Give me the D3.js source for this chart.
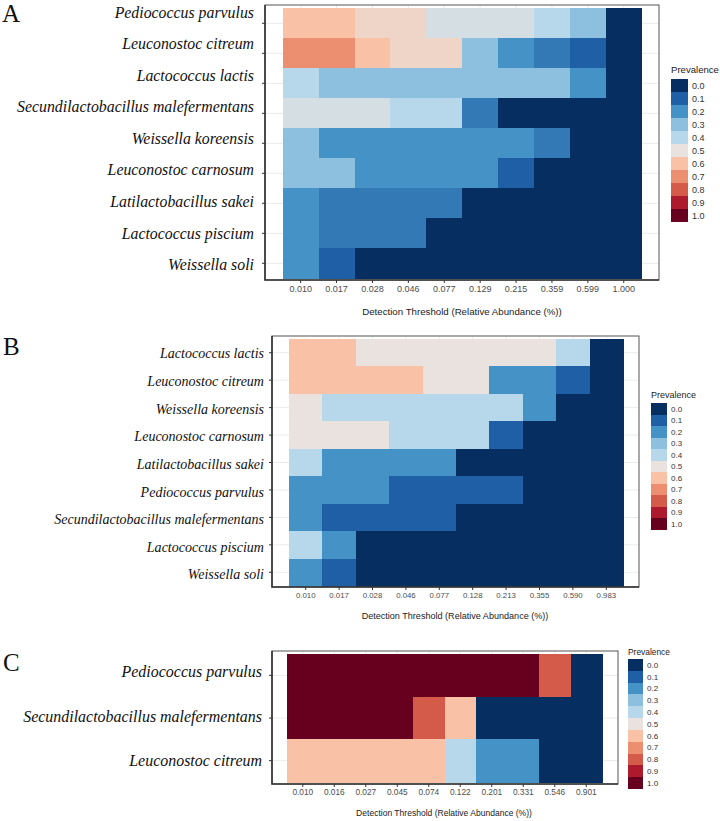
<!DOCTYPE html>
<html>
<head>
<meta charset="utf-8">
<script src="https://cdn.jsdelivr.net/npm/d3@7"></script>
<style>
  html, body { margin: 0; padding: 0; background: #fff; }
  svg { display: block; }
</style>
</head>
<body>
<svg id="chart" width="720" height="821"></svg>
<script>
// ---------------- DATA ----------------
const speciesA = ["Pediococcus parvulus", "Leuconostoc citreum", "Lactococcus lactis",
  "Secundilactobacillus malefermentans", "Weissella koreensis", "Leuconostoc carnosum",
  "Latilactobacillus sakei", "Lactococcus piscium", "Weissella soli"];
const thresholdsA = ["0.010", "0.017", "0.028", "0.046", "0.077", "0.129", "0.215", "0.359", "0.599", "1.000"];
const prevalenceA = [
  [0.6, 0.6, 0.54, 0.54, 0.46, 0.46, 0.46, 0.4, 0.3, 0],
  [0.7, 0.7, 0.6, 0.54, 0.54, 0.3, 0.2, 0.15, 0.1, 0],
  [0.4, 0.3, 0.3, 0.3, 0.3, 0.3, 0.3, 0.3, 0.2, 0],
  [0.46, 0.46, 0.46, 0.4, 0.4, 0.15, 0, 0, 0, 0],
  [0.3, 0.2, 0.2, 0.2, 0.2, 0.2, 0.2, 0.15, 0, 0],
  [0.3, 0.3, 0.2, 0.2, 0.2, 0.2, 0.1, 0, 0, 0],
  [0.2, 0.15, 0.15, 0.15, 0.15, 0, 0, 0, 0, 0],
  [0.2, 0.15, 0.15, 0.15, 0, 0, 0, 0, 0, 0],
  [0.2, 0.1, 0, 0, 0, 0, 0, 0, 0, 0]
];

const speciesB = ["Lactococcus lactis", "Leuconostoc citreum", "Weissella koreensis",
  "Leuconostoc carnosum", "Latilactobacillus sakei", "Pediococcus parvulus",
  "Secundilactobacillus malefermentans", "Lactococcus piscium", "Weissella soli"];
const thresholdsB = ["0.010", "0.017", "0.028", "0.046", "0.077", "0.128", "0.213", "0.355", "0.590", "0.983"];
const prevalenceB = [
  [0.6, 0.6, 0.5, 0.5, 0.5, 0.5, 0.5, 0.5, 0.4, 0],
  [0.6, 0.6, 0.6, 0.6, 0.5, 0.5, 0.2, 0.2, 0.1, 0],
  [0.5, 0.4, 0.4, 0.4, 0.4, 0.4, 0.4, 0.2, 0, 0],
  [0.5, 0.5, 0.5, 0.4, 0.4, 0.4, 0.1, 0, 0, 0],
  [0.4, 0.2, 0.2, 0.2, 0.2, 0, 0, 0, 0, 0],
  [0.2, 0.2, 0.2, 0.1, 0.1, 0.1, 0.1, 0, 0, 0],
  [0.2, 0.1, 0.1, 0.1, 0.1, 0, 0, 0, 0, 0],
  [0.4, 0.2, 0, 0, 0, 0, 0, 0, 0, 0],
  [0.2, 0.1, 0, 0, 0, 0, 0, 0, 0, 0]
];

const speciesC = ["Pediococcus parvulus", "Secundilactobacillus malefermentans", "Leuconostoc citreum"];
const thresholdsC = ["0.010", "0.016", "0.027", "0.045", "0.074", "0.122", "0.201", "0.331", "0.546", "0.901"];
const prevalenceC = [
  [1, 1, 1, 1, 1, 1, 1, 1, 0.8, 0],
  [1, 1, 1, 1, 0.8, 0.6, 0, 0, 0, 0],
  [0.6, 0.6, 0.6, 0.6, 0.6, 0.4, 0.2, 0.2, 0, 0]
];

const legendLevels = [0.0, 0.1, 0.2, 0.3, 0.4, 0.5, 0.6, 0.7, 0.8, 0.9, 1.0];
const legendLabels = ["0.0", "0.1", "0.2", "0.3", "0.4", "0.5", "0.6", "0.7", "0.8", "0.9", "1.0"];
const legendColors = ["#062e60", "#1e5fa6", "#4592c6", "#8cc0de", "#b7d7ea", "#e9e2df",
  "#f9c1a5", "#ec8f71", "#d45a4a", "#ae1a2d", "#67001f"];
const axisTitle = "Detection Threshold (Relative Abundance (%))";
const legendTitle = "Prevalence";

// ---------------- DRAW ----------------
const svg = d3.select("#chart");
const color = d3.scaleLinear().domain(legendLevels).range(legendColors).interpolate(d3.interpolateRgb);

const SERIF = "'Liberation Serif', 'Times New Roman', Times, serif";
const SANS = "'Liberation Sans', Arial, Helvetica, sans-serif";

function fitSize(text, family, style, targetW) {
  const t = svg.append("text").attr("font-family", family).attr("font-style", style)
    .attr("font-size", 100).text(text);
  const w = t.node().getComputedTextLength();
  t.remove();
  return 100 * targetW / w;
}

function drawPanel(cfg) {
  const g = svg.append("g");
  const x = d3.scaleBand().domain(cfg.thresholds).range([cfg.cx0, cfg.cx1]).padding(0);
  const y = d3.scaleBand().domain(cfg.species).range([cfg.cy0, cfg.cy1]).padding(0);

  // grid
  g.append("g").selectAll("line.h").data(cfg.species).join("line")
    .attr("x1", cfg.px0).attr("x2", cfg.px1)
    .attr("y1", d => y(d) + y.bandwidth() / 2).attr("y2", d => y(d) + y.bandwidth() / 2)
    .attr("stroke", "#ebebeb").attr("stroke-width", 1);
  g.append("g").selectAll("line.v").data(cfg.thresholds).join("line")
    .attr("y1", cfg.py0).attr("y2", cfg.py1)
    .attr("x1", d => x(d) + x.bandwidth() / 2).attr("x2", d => x(d) + x.bandwidth() / 2)
    .attr("stroke", "#ebebeb").attr("stroke-width", 1);

  // cells
  const cells = [];
  cfg.values.forEach((row, i) => row.forEach((v, j) => cells.push({ s: cfg.species[i], t: cfg.thresholds[j], v })));
  g.append("g").selectAll("rect").data(cells).join("rect")
    .attr("x", d => x(d.t)).attr("y", d => y(d.s))
    .attr("width", x.bandwidth() + 0.5).attr("height", y.bandwidth() + 0.5)
    .attr("fill", d => color(d.v)).attr("shape-rendering", "crispEdges");

  // border
  g.append("rect").attr("x", cfg.px0).attr("y", cfg.py0)
    .attr("width", cfg.px1 - cfg.px0).attr("height", cfg.py1 - cfg.py0)
    .attr("fill", "none").attr("stroke", "#555").attr("stroke-width", 1);
  g.append("path").attr("d", `M${cfg.px0},${cfg.py0}V${cfg.py1}H${cfg.px1}`)
    .attr("fill", "none").attr("stroke", "#333").attr("stroke-width", 1.6);

  // bottom axis
  const ax = g.append("g").attr("transform", `translate(0,${cfg.py1})`)
    .call(d3.axisBottom(x).tickSize(3).tickPadding(cfg.tickPad));
  ax.select(".domain").remove();
  ax.selectAll(".tick line").attr("stroke", "#333");
  ax.selectAll(".tick text").attr("font-family", SANS).attr("font-size", cfg.tickFont).attr("fill", "#4d4d4d");

  // left tick marks (labels drawn separately)
  const ay = g.append("g").attr("transform", `translate(${cfg.px0},0)`)
    .call(d3.axisLeft(y).tickSize(3).tickFormat(""));
  ay.select(".domain").remove();
  ay.selectAll(".tick line").attr("stroke", "#333");

  // species labels
  const ly = d3.scalePoint().domain(cfg.species).range([cfg.ly0, cfg.ly1]);
  const fs = fitSize("Secundilactobacillus malefermentans", SERIF, "italic", cfg.longW);
  g.append("g").selectAll("text").data(cfg.species).join("text")
    .attr("x", cfg.lx).attr("y", d => ly(d)).attr("dy", "0.32em")
    .attr("text-anchor", "end").attr("font-family", SERIF).attr("font-style", "italic")
    .attr("font-size", fs).attr("fill", "#111").text(d => d);

  // panel letter
  g.append("text").attr("x", cfg.letterX).attr("y", cfg.letterY)
    .attr("font-family", SERIF).attr("font-size", 25).attr("fill", "#111").text(cfg.letter);

  // axis title
  const ts = fitSize(axisTitle, SANS, "normal", cfg.titleW);
  g.append("text").attr("x", cfg.titleX).attr("y", cfg.titleY).attr("dy", "0.35em")
    .attr("text-anchor", "middle").attr("font-family", SANS).attr("font-size", ts)
    .attr("fill", "#222").text(axisTitle);

  // legend
  const lg = g.append("g");
  const lts = fitSize(legendTitle, SANS, "normal", cfg.legTitleW);
  lg.append("text").attr("x", cfg.legX).attr("y", cfg.legTitleY).attr("dy", "0.35em")
    .attr("font-family", SANS).attr("font-size", lts).attr("fill", "#222").text(legendTitle);
  const ky = d3.scaleBand().domain(legendLabels).range([cfg.legY0, cfg.legY1]);
  lg.selectAll("rect").data(legendLevels).join("rect")
    .attr("x", cfg.legX).attr("y", (d, i) => ky(legendLabels[i]))
    .attr("width", cfg.legW).attr("height", ky.bandwidth() + 0.3)
    .attr("fill", d => color(d)).attr("shape-rendering", "crispEdges");
  lg.selectAll("text.lab").data(legendLabels).join("text").attr("class", "lab")
    .attr("x", cfg.legX + cfg.legW + 4).attr("y", d => ky(d) + ky.bandwidth() / 2).attr("dy", "0.35em")
    .attr("font-family", SANS).attr("font-size", cfg.legFont).attr("fill", "#333").text(d => d);
}

drawPanel({
  letter: "A", letterX: 2, letterY: 22,
  species: speciesA, thresholds: thresholdsA, values: prevalenceA,
  px0: 265, px1: 659, py0: 5, py1: 280,
  cx0: 282.7, cx1: 641.7, cy0: 8.3, cy1: 278.3,
  tickPad: 2.5, tickFont: 9,
  lx: 254, ly0: 12.7, ly1: 265, longW: 237,
  titleX: 462, titleY: 312, titleW: 200,
  legX: 671, legW: 17, legY0: 79, legY1: 222, legTitleY: 70, legTitleW: 48, legFont: 9
});

drawPanel({
  letter: "B", letterX: 3, letterY: 355,
  species: speciesB, thresholds: thresholdsB, values: prevalenceB,
  px0: 272, px1: 639, py0: 336, py1: 587,
  cx0: 289, cx1: 623, cy0: 339, cy1: 586,
  tickPad: 2.5, tickFont: 7.8,
  lx: 264, ly0: 354, ly1: 575, longW: 210,
  titleX: 455, titleY: 616, titleW: 187,
  legX: 651, legW: 16, legY0: 403, legY1: 530, legTitleY: 395, legTitleW: 45, legFont: 8
});

drawPanel({
  letter: "C", letterX: 3, letterY: 671,
  species: speciesC, thresholds: thresholdsC, values: prevalenceC,
  px0: 272, px1: 618, py0: 651, py1: 784,
  cx0: 287, cx1: 602, cy0: 654, cy1: 782,
  tickPad: 2.5, tickFont: 8.3,
  lx: 262, ly0: 672, ly1: 761, longW: 239,
  titleX: 444, titleY: 813, titleW: 176,
  legX: 628, legW: 15, legY0: 659, legY1: 789, legTitleY: 652, legTitleW: 42, legFont: 8
});
</script>
</body>
</html>
